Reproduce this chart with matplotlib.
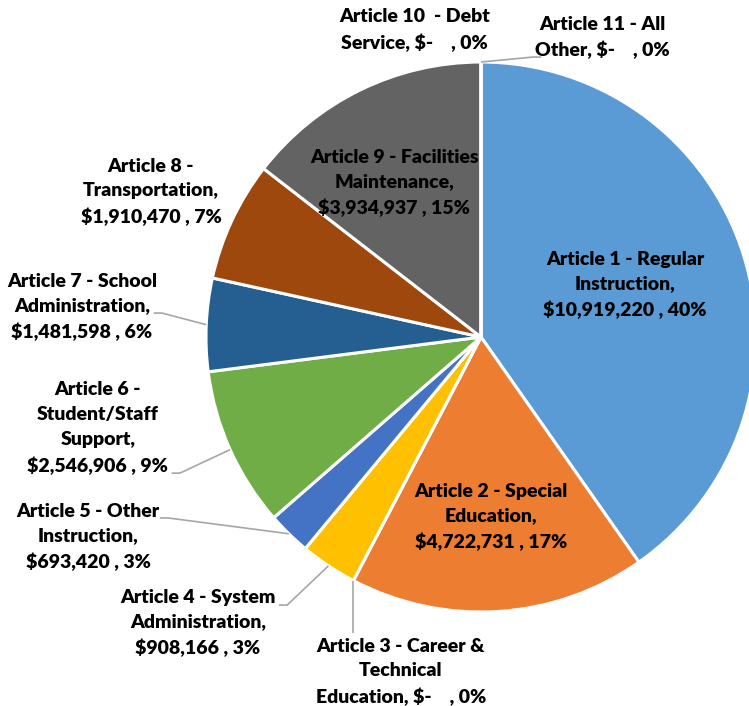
import numpy as np
import matplotlib.pyplot as plt

# budget by article
labels = ['Article 1 - Regular\nInstruction,', 'Article 2 - Special\nEducation,',
          'Article 3 - Career &\nTechnical\nEducation,', 'Article 4 - System\nAdministration,',
          'Article 5 - Other\nInstruction,', 'Article 6 -\nStudent/Staff\nSupport,',
          'Article 7 - School\nAdministration,', 'Article 8 -\nTransportation,',
          'Article 9 - Facilities\nMaintenance,', 'Article 10  - Debt\nService,',
          'Article 11 - All\nOther,']
amounts = [10919220, 4722731, 0, 908166, 693420, 2546906, 1481598, 1910470, 3934937, 0, 0]
percents = [40, 17, 0, 3, 3, 9, 6, 7, 15, 0, 0]
colors = ['#5B9BD5', '#ED7D31', '#A5A5A5', '#FFC000', '#4472C4', '#70AD47',
          '#255E91', '#9E480E', '#636363', '#997300', '#264478']

# label centres (data units, pie radius = 1)
label_pos = [(0.524, 0.189), (0.036, -0.655), (-0.291, -1.218), (-1.029, -1.040),
             (-1.429, -0.727), (-1.393, -0.331), (-1.451, 0.109), (-1.200, 0.527),
             (-0.316, 0.560), (-0.243, 1.116), (0.440, 1.089)]
# text-side end of leader lines
leader_end = {2: (None, -1.075), 3: (-0.705, -0.975), 4: (-1.138, -0.658),
              5: (-1.095, -0.495), 6: (-1.160, 0.087), 10: (0.189, 1.018)}

plt.rcParams['font.family'] = ['Lato', 'DejaVu Sans']

fig = plt.figure(figsize=(7.49, 7.06), dpi=100)
ax = fig.add_axes([0, 0, 1, 1])

wedges, _ = ax.pie(amounts, colors=colors, startangle=90, counterclock=False,
                   radius=1, center=(0, 0), frame=True,
                   wedgeprops=dict(edgecolor='white', linewidth=2.2))
ax.set_xlim(-1.749, 0.9745)
ax.set_ylim(-1.3418, 1.2255)
ax.set_aspect('auto')
ax.axis('off')

total = sum(amounts)
cum = 0
for i, (lab, amt) in enumerate(zip(labels, amounts)):
    mid = cum + amt / 2
    cum += amt
    money = '$-   ' if amt == 0 else '${:,}'.format(amt)
    sep = ' ' if i in (2, 9, 10) else '\n'
    text = lab + sep + money + ' , ' + str(percents[i]) + '%'
    tx, ty = label_pos[i]
    ax.text(tx, ty, text, ha='center', va='center', fontsize=14, fontweight='heavy',
            linespacing=1.55, color='#000000')
    if i in leader_end:
        ang = np.deg2rad(90 - 360 * mid / total)
        ex, ey = np.cos(ang), np.sin(ang)
        lx, ly = leader_end[i]
        if lx is None:
            xs, ys = [ex, ex], [ey, ly]
        else:
            step = 0.03 if lx < ex else -0.03
            xs, ys = [ex, lx, lx - step], [ey, ly, ly]
        ax.plot(xs, ys, color='#A6A6A6', lw=1.2, solid_capstyle='butt')

fig.savefig('out.png', dpi=100, facecolor='white')
